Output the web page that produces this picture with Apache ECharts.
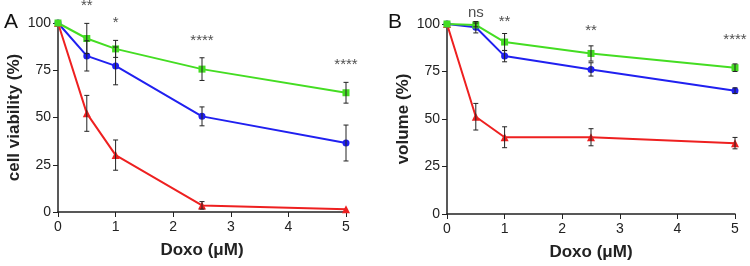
<!DOCTYPE html>
<html>
<head>
<meta charset="utf-8">
<script src="https://cdn.jsdelivr.net/npm/echarts@6/dist/echarts.min.js"></script>
<style>
html, body { margin: 0; padding: 0; background: #fff; }
#main { width: 750px; height: 266px; }
</style>
</head>
<body>
<div id="main"></div>
<script>
// doses (uM)
var doses = [0, 0.5, 1, 2.5, 5];

// panel A - cell viability (%)
var aGreen = [100, 91.8, 86.3, 75.6, 63.1];
var aGreenErr = [0, 8, 4.5, 6, 5.5];
var aBlue = [100, 82.6, 77.3, 50.6, 36.5];
var aBlueErr = [0, 8, 10, 5, 9.5];
var aRed = [100, 52.2, 30.1, 3.5, 1.4];
var aRedErr = [0, 9.5, 8, 2, 0];
var aMarks = [[0.5, 109, '**'], [1, 100, '*'], [2.5, 90.5, '****'], [5, 78, '****']];

// panel B - volume (%)
var bGreen = [100, 99.5, 90.5, 84.5, 77];
var bGreenErr = [0, 1, 4.5, 4, 2];
var bBlue = [100, 98.3, 83.1, 76.1, 64.9];
var bBlueErr = [0, 3, 3, 3.5, 1.5];
var bRed = [100, 51.2, 40.4, 40.4, 37.3];
var bRedErr = [0, 7, 5.5, 4.5, 3];
var bMarks = [[0.5, 106, 'ns'], [1, 101, '**'], [2.5, 96.5, '**'], [5, 91.5, '****']];

var GREEN = '#44dd22', BLUE = '#2020f0', RED = '#ee2020';
var FONT = 'Liberation Sans, Arial, sans-serif';

function pairs(vals) {
  return doses.map(function (d, i) { return [d, vals[i]]; });
}

function lineSeries(idx, vals, color, symbol, size) {
  return {
    type: 'line', xAxisIndex: idx, yAxisIndex: idx,
    data: pairs(vals), symbol: symbol, symbolSize: size,
    showAllSymbol: true, z: 3,
    lineStyle: { color: color, width: 2 },
    itemStyle: { color: color }
  };
}

function errSeries(idx, vals, errs) {
  var d = doses.map(function (x, i) { return [x, vals[i] - errs[i], vals[i] + errs[i]]; })
    .filter(function (r) { return r[2] - r[1] > 0; });
  return {
    type: 'custom', xAxisIndex: idx, yAxisIndex: idx, z: 5,
    data: d,
    renderItem: function (params, api) {
      var lo = api.coord([api.value(0), api.value(1)]);
      var hi = api.coord([api.value(0), api.value(2)]);
      var w = 2.5;
      var st = { stroke: '#222', lineWidth: 1 };
      return {
        type: 'group',
        children: [
          { type: 'line', shape: { x1: lo[0], y1: lo[1], x2: hi[0], y2: hi[1] }, style: st },
          { type: 'line', shape: { x1: lo[0] - w, y1: lo[1], x2: lo[0] + w, y2: lo[1] }, style: st },
          { type: 'line', shape: { x1: hi[0] - w, y1: hi[1], x2: hi[0] + w, y2: hi[1] }, style: st }
        ]
      };
    }
  };
}

function markSeries(idx, marks) {
  return {
    type: 'scatter', xAxisIndex: idx, yAxisIndex: idx, symbolSize: 0, z: 6,
    clip: false, silent: true,
    data: marks.map(function (m) { return { value: [m[0], m[1]], name: m[2] }; }),
    label: {
      show: true, position: 'inside', color: '#222', fontSize: 15, fontFamily: FONT,
      formatter: function (p) { return p.name; }
    }
  };
}

function xAx(idx) {
  return {
    gridIndex: idx, type: 'value', min: 0, max: 5, interval: 1,
    name: 'Doxo (\u03bcM)', nameLocation: 'middle', nameGap: 30,
    nameTextStyle: { fontSize: 17, fontWeight: 'bold', color: '#222', fontFamily: FONT },
    axisLine: { show: true, onZero: false, lineStyle: { color: '#222', width: 1.5 } },
    axisTick: { show: true, length: 5, lineStyle: { color: '#222' } },
    axisLabel: { fontSize: 14, color: '#222', margin: 8, fontFamily: FONT },
    splitLine: { show: false }
  };
}

function yAx(idx, name) {
  return {
    gridIndex: idx, type: 'value', min: 0, max: 100, interval: 25,
    name: name, nameLocation: 'middle', nameGap: 35,
    nameTextStyle: { fontSize: 17, fontWeight: 'bold', color: '#222', fontFamily: FONT },
    axisLine: { show: true, onZero: false, lineStyle: { color: '#222', width: 1.5 } },
    axisTick: { show: true, length: 5, lineStyle: { color: '#222' } },
    axisLabel: { fontSize: 14, color: '#222', margin: 7, fontFamily: FONT },
    splitLine: { show: false }
  };
}

var chart = echarts.init(document.getElementById('main'), null, { renderer: 'canvas' });

var option = {
  animation: false,
  backgroundColor: '#fff',
  title: [
    { text: 'A', left: -1, top: 7, textStyle: { fontSize: 21, fontWeight: 'normal', color: '#111', fontFamily: FONT } },
    { text: 'B', left: 383, top: 7, textStyle: { fontSize: 21, fontWeight: 'normal', color: '#111', fontFamily: FONT } }
  ],
  grid: [
    { left: 58, right: 404, top: 23, bottom: 54 },
    { left: 447, right: 15, top: 24, bottom: 52 }
  ],
  xAxis: [xAx(0), xAx(1)],
  yAxis: [yAx(0, 'cell viability (%)'), yAx(1, 'volume (%)')],
  series: [
    lineSeries(0, aRed, RED, 'triangle', 8),
    lineSeries(0, aBlue, BLUE, 'circle', 7),
    lineSeries(0, aGreen, GREEN, 'rect', 7),
    errSeries(0, aRed, aRedErr),
    errSeries(0, aBlue, aBlueErr),
    errSeries(0, aGreen, aGreenErr),
    markSeries(0, aMarks),
    lineSeries(1, bRed, RED, 'triangle', 8),
    lineSeries(1, bBlue, BLUE, 'circle', 7),
    lineSeries(1, bGreen, GREEN, 'rect', 7),
    errSeries(1, bRed, bRedErr),
    errSeries(1, bBlue, bBlueErr),
    errSeries(1, bGreen, bGreenErr),
    markSeries(1, bMarks)
  ]
};

chart.setOption(option);
</script>
</body>
</html>
